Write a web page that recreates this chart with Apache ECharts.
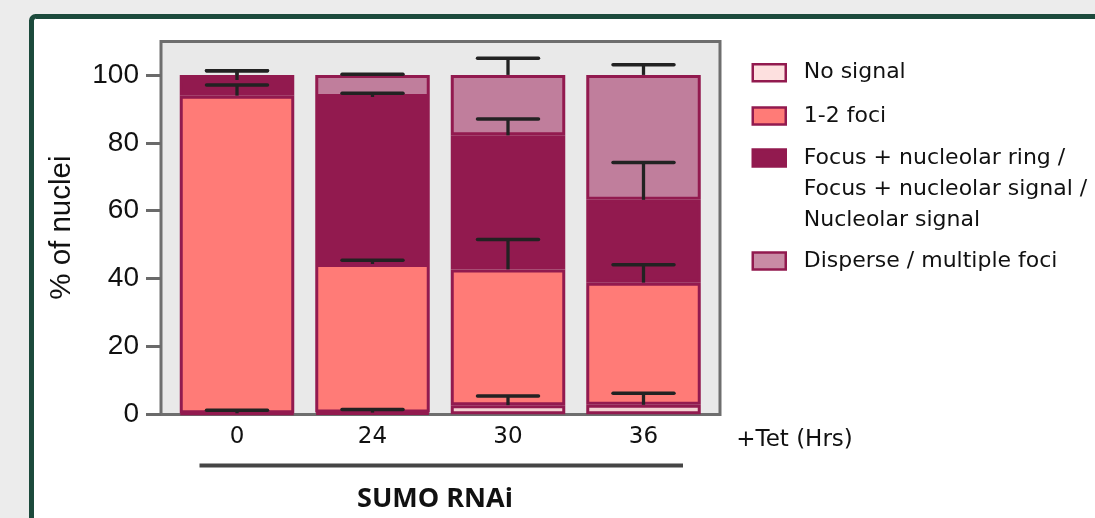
<!DOCTYPE html>
<html>
<head>
<meta charset="utf-8">
<script src="https://cdn.jsdelivr.net/npm/echarts@6/dist/echarts.min.js"></script>
<style>
  html, body { margin: 0; padding: 0; background: #ececec; }
  #chart { width: 1095px; height: 518px; }
</style>
</head>
<body>
<div id="chart"></div>
<script>
// ---- data ----
const categories = ['0', '24', '30', '36'];
const yTicks = [0, 20, 40, 60, 80, 100];
const seriesNames = [
  'No signal',
  '1-2 foci',
  'Focus + nucleolar ring /\nFocus + nucleolar signal /\nNucleolar signal',
  'Disperse / multiple foci'
];
const noSignal       = [0.3, 0.5, 2.7, 2.8];
const foci12         = [93.6, 43.8, 40.0, 36.0];
const focusNucleolar = [4.6, 49.2, 39.5, 24.4];
const disperse       = [1.5, 6.5, 17.8, 36.8];
// upper (one-sided) error of each segment
const noSignalErr       = [0.9, 0.9, 2.7, 3.4];
const foci12Err         = [3.1, 1.1, 8.8, 5.3];
const focusNucleolarErr = [2.7, 1.1, 4.8, 11.0];
const disperseErr       = [1.2, 0.2, 4.9, 3.0];

// ---- styling ----
const fills = ['#f3d2d2', '#ff7b77', '#921a4f', '#c07e9c'];
const legendFills = ['#fde0df', '#ff7b77', '#921a4f', '#c98ba5'];
const edge = '#921a4f';
const arial = "'Liberation Sans', Arial, sans-serif";
const dejavu = "'DejaVu Sans', sans-serif";

const segs = [noSignal, foci12, focusNucleolar, disperse];
const errs = [noSignalErr, foci12Err, focusNucleolarErr, disperseErr];

// error bar data: [category index, cumulative top, error]
const errData = [];
const cum = categories.map(() => 0);
segs.forEach((arr, s) => {
  arr.forEach((v, i) => {
    cum[i] += v;
    errData.push([i, cum[i], errs[s][i]]);
  });
});

const barSeries = segs.map((arr, s) => ({
  name: seriesNames[s],
  type: 'bar',
  stack: 'total',
  barWidth: 114.5,
  data: arr,
  itemStyle: { color: fills[s], borderColor: edge, borderWidth: 3 },
  emphasis: { disabled: true },
  z: 2
}));

const legendBase = {
  orient: 'vertical',
  left: 751.5,
  padding: 0,
  itemWidth: 33,
  itemHeight: 17,
  icon: 'rect',
  selectedMode: false,
  textStyle: {
    fontFamily: dejavu, fontSize: 22, color: '#111',
    lineHeight: 17, padding: [0, 0, 0, 13]
  }
};
const legendTops = [61.7, 105, 80.5, 250];
const legends = seriesNames.map((n, s) => {
  const l = Object.assign({}, legendBase, {
    top: legendTops[s],
    data: [n],
    itemStyle: { color: legendFills[s], borderWidth: 2.5, borderColor: edge }
  });
  if (s === 2) {
    // two leading blank lines keep the first text line level with the icon
    l.formatter = function (name) { return '\n\n' + name; };
    l.textStyle = Object.assign({}, legendBase.textStyle, { lineHeight: 31 });
  }
  return l;
});

const chart = echarts.init(document.getElementById('chart'), null, { renderer: 'canvas' });
chart.setOption({
  backgroundColor: '#ececec',
  animation: false,
  graphic: [
    { type: 'rect', z: -20, shape: { x: 31.5, y: 16.5, width: 1120, height: 600, r: 4 },
      style: { fill: '#ffffff', stroke: '#1c4a3c', lineWidth: 5 } },
    { type: 'rect', z: -10, shape: { x: 161, y: 41.5, width: 559, height: 373 },
      style: { fill: '#e9e9e9', stroke: '#6e6e6e', lineWidth: 3 } },
    { type: 'line', z: 5, shape: { x1: 199.5, y1: 465.5, x2: 683, y2: 465.5 },
      style: { stroke: '#454545', lineWidth: 4 } },
    { type: 'text', z: 5, x: 435, y: 499,
      style: { text: 'SUMO RNAi', fontFamily: "'Open Sans', sans-serif", fontWeight: 'bold', fontSize: 27,
               fill: '#111', align: 'center', verticalAlign: 'middle' } }
  ],
  legend: legends,
  grid: { left: 169.25, right: 383.75, top: 41, bottom: 103.7, containLabel: false },
  xAxis: {
    type: 'category',
    data: categories,
    axisLine: { show: false },
    axisTick: { show: false },
    axisLabel: { margin: 11, fontFamily: dejavu, fontSize: 23, color: '#111' },
    name: '+Tet (Hrs)',
    nameLocation: 'end',
    nameGap: 25,
    nameTextStyle: { fontFamily: dejavu, fontSize: 23, color: '#111',
                     align: 'left', verticalAlign: 'top', padding: [14, 0, 0, 0] }
  },
  yAxis: {
    type: 'value',
    min: 0, max: 110, interval: 20,
    offset: 8.25,
    splitLine: { show: false },
    axisLine: { show: false },
    axisTick: { show: true, length: 15, lineStyle: { color: '#6a6a6a', width: 3 }, customValues: yTicks },
    axisLabel: { margin: 22, fontFamily: arial, fontSize: 28, color: '#111', customValues: yTicks },
    name: '% of nuclei',
    nameLocation: 'middle',
    nameRotate: 90,
    nameGap: 84,
    nameTextStyle: { fontFamily: arial, fontSize: 29.5, color: '#111' }
  },
  series: barSeries.concat([{
    name: 'error',
    type: 'custom',
    z: 10,
    data: errData,
    encode: { x: 0, y: 1 },
    renderItem: function (params, api) {
      const x = api.value(0), top = api.value(1), err = api.value(2);
      const p0 = api.coord([x, top]);
      const p1 = api.coord([x, top + err]);
      const half = api.size([1, 0])[0] * 0.225;
      return {
        type: 'group',
        children: [
          { type: 'line', shape: { x1: p0[0], y1: p0[1], x2: p1[0], y2: p1[1] },
            style: { stroke: '#222', lineWidth: 3.3 } },
          { type: 'line', shape: { x1: p1[0] - half, y1: p1[1], x2: p1[0] + half, y2: p1[1] },
            style: { stroke: '#222', lineWidth: 3.5, lineCap: 'round' } }
        ]
      };
    }
  }])
});
</script>
</body>
</html>
